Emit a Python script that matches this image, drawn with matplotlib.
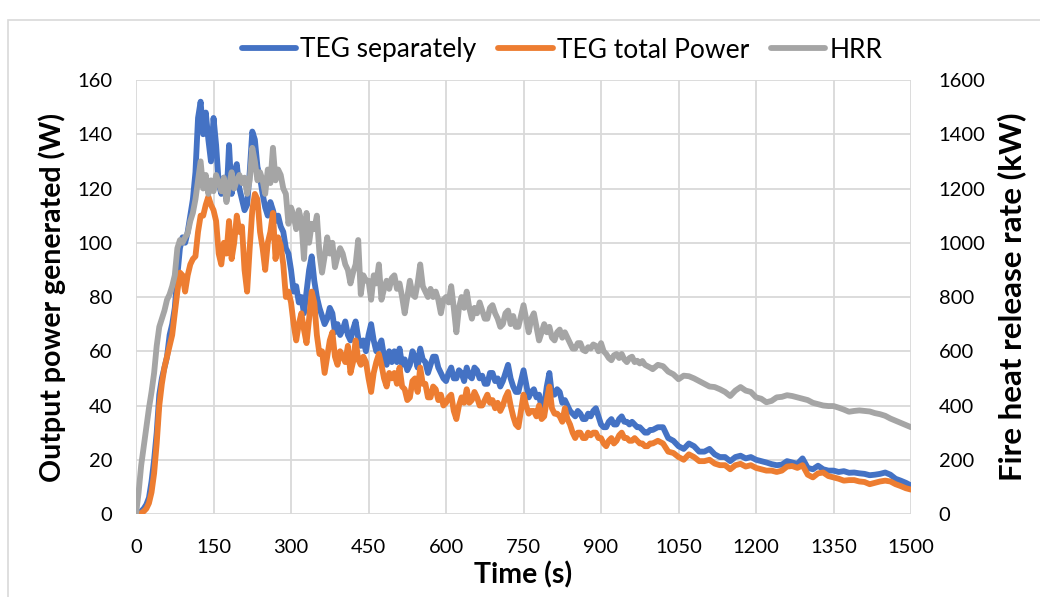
import matplotlib
matplotlib.use("Agg")
import matplotlib.pyplot as plt
from matplotlib.patches import Rectangle

plt.rcParams['font.family'] = ['Lato', 'DejaVu Sans']

# sampling: 5 s up to 1000 s, then 10 s
time_s = list(range(0, 1000, 5)) + list(range(1000, 1501, 10))

teg_separately = [
    0, 0.5, 1, 2, 3.5, 6, 12, 20, 30, 44,
    50, 54, 58, 66, 70, 76, 88, 98, 102, 100,
    104, 110, 116, 126, 146, 152, 140, 148, 138, 130,
    146, 136, 122, 118, 124, 116, 136, 118, 126, 129,
    120, 116, 112, 114, 126, 141, 138, 128, 124, 118,
    113, 110, 115, 112, 108, 110, 106, 104, 98, 96,
    90, 82, 84, 78, 80, 74, 82, 90, 95, 86,
    80, 76, 73, 70, 72, 76, 74, 67, 70, 66,
    68, 71, 66, 64, 68, 71, 65, 62, 64, 60,
    66, 70, 64, 60, 62, 64, 58, 55, 60, 56,
    60, 56, 61, 55, 57, 53, 55, 60, 58, 54,
    61, 57, 56, 52, 55, 58, 58, 54, 52, 50,
    49, 52, 54, 50, 50, 53, 52, 49, 54, 51,
    50, 54, 53, 50, 51, 48, 48, 52, 52, 49,
    50, 47, 49, 52, 55, 50, 47, 45, 45, 49,
    53, 48, 43, 45, 46, 43, 44, 39, 40, 47,
    52, 44, 44, 46, 45, 41, 42, 40, 38, 37,
    36, 38, 37, 35, 35, 37, 36, 38, 39, 36,
    33, 32, 32, 34, 35, 33, 33, 35, 36, 34,
    34, 33, 34, 33, 32, 32, 31, 30, 30, 31,
    31, 32, 32, 28, 27, 25, 24, 26, 25, 23,
    23, 24, 22, 21, 21, 19.5, 21, 21.5, 20.5, 21,
    20, 19.5, 19, 18.4, 18, 18.2, 19.5, 19, 18.5, 20.5,
    17, 16.5, 17.8, 16.5, 16, 16, 15.5, 15.8, 15.2, 15.3,
    15, 14.8, 14.3, 14.5, 14.8, 15.3, 14.5, 13, 12.3, 11.5,
    10.5,
]

teg_total = [
    0, 0, 0.3, 1, 2, 4, 8, 15, 26, 40,
    48, 54, 58, 62, 66, 74, 82, 89, 88, 82,
    88, 92, 94, 95, 104, 110, 110, 114, 117, 114,
    112, 108, 96, 92, 100, 96, 108, 94, 100, 110,
    104, 106, 90, 82, 98, 112, 118, 116, 104, 98,
    90, 100, 104, 111, 94, 102, 99, 92, 80, 82,
    78, 70, 64, 70, 74, 68, 63, 72, 82, 78,
    66, 59, 60, 52, 58, 64, 67, 58, 55, 60,
    58, 56, 62, 52, 56, 64, 57, 55, 58, 56,
    50, 45, 52, 56, 59, 55, 50, 47, 52, 50,
    52, 48, 54, 47, 46, 42, 43, 49, 50, 45,
    54, 48, 48, 43, 43, 47, 46, 42, 44, 40,
    41, 43, 44, 38, 35, 40, 43, 41, 46, 41,
    42, 45, 43, 40, 40, 42, 44, 41, 42, 39,
    41, 38, 40, 43, 45, 40, 36, 33, 32, 38,
    44, 40, 37, 38, 38, 36, 40, 35, 36, 42,
    47, 39, 37, 37, 36, 34, 39, 35, 33, 30,
    28, 30, 30, 28, 28, 30, 29, 30, 30, 28,
    28, 26, 25, 27, 28, 26, 27, 29, 30, 28,
    28, 27, 27, 28, 27, 26, 26, 25, 25, 26,
    26, 27, 26, 23, 22.5, 21, 20, 22, 21, 19.5,
    19.5, 20, 18.6, 18, 18, 16.5, 18, 18.5, 17.5, 18,
    17, 16.5, 16, 16, 15.5, 16, 17.5, 17.7, 17, 18,
    14.5, 13.5, 15, 15.3, 14, 13.5, 13, 12.3, 12.5, 12.5,
    12, 11.8, 11, 11.5, 12, 12.3, 12, 11, 10.3, 9.5,
    9,
]

hrr_kw = [
    0, 80, 180, 250, 320, 390, 450, 520, 620, 690,
    720, 750, 790, 810, 840, 880, 980, 1010, 1000, 1020,
    1035, 1080, 1110, 1160, 1230, 1300, 1200, 1250, 1180, 1230,
    1190, 1250, 1220, 1190, 1240, 1150, 1210, 1260, 1200, 1230,
    1250, 1220, 1240, 1180, 1230, 1350, 1300, 1230, 1260, 1230,
    1180, 1270, 1220, 1350, 1230, 1270, 1250, 1200, 1180, 1070,
    1130, 1100, 1050, 1120, 1080, 940, 1110, 1000, 1070, 1050,
    1100, 960, 890, 950, 1020, 960, 1000, 910, 950, 980,
    960, 920, 900, 850, 890, 920, 1010, 810, 880, 860,
    860, 790, 880, 850, 920, 790, 830, 860, 830, 870,
    880, 830, 850, 800, 740, 800, 860, 810, 800, 850,
    920, 840, 820, 800, 830, 800, 820, 790, 740, 790,
    800, 780, 840, 760, 670, 760, 800, 760, 820, 760,
    720, 760, 740, 780, 750, 720, 720, 760, 770, 740,
    720, 690, 700, 740, 750, 700, 730, 690, 690, 730,
    770, 720, 670, 720, 740, 690, 640, 670, 700, 670,
    690, 650, 640, 670, 680, 650, 670, 650, 630, 610,
    610, 630, 630, 605, 600, 615, 610, 625, 620, 600,
    630, 600, 590, 575, 567, 585, 590, 575, 590, 570,
    560, 575, 580, 560, 565, 555, 564, 550, 545, 540,
    534, 550, 545, 525, 515, 497, 510, 508, 500, 490,
    480, 470, 468, 460, 450, 435, 455, 468, 455, 450,
    430, 425, 412, 417, 430, 432, 438, 435, 430, 425,
    420, 410, 405, 400, 398, 398, 392, 385, 377, 380,
    382, 380, 378, 372, 368, 362, 352, 344, 336, 328,
    320,
]

x_ticks = list(range(0, 1501, 150))
power_ticks = list(range(0, 161, 20))
hrr_ticks = list(range(0, 1601, 200))

blue = '#4472C4'
orange = '#ED7D31'
grey = '#A5A5A5'
grid_c = '#D9D9D9'

fig = plt.figure(figsize=(10.4, 5.97), dpi=100)
ax1 = fig.add_axes([0.1308, 0.139, 0.7452, 0.727])
ax2 = ax1.twinx()

# outer chart frame
fig.patches.append(Rectangle((8 / 1040, -0.05), 1.2, 1.05 - 20 / 597,
                             transform=fig.transFigure, fill=False,
                             edgecolor=grid_c, linewidth=1.2))

style = dict(lw=4.2, solid_joinstyle='round', solid_capstyle='round')
l1, = ax1.plot(time_s, teg_separately, color=blue, label='TEG separately', **style)
l2, = ax1.plot(time_s, teg_total, color=orange, label='TEG total Power', **style)
l3, = ax2.plot(time_s, hrr_kw, color=grey, label='HRR', **style)

ax1.set_xlim(0, 1500)
ax1.set_ylim(0, 160)
ax2.set_ylim(0, 1600)
ax1.set_xticks(x_ticks)
ax1.set_yticks(power_ticks)
ax2.set_yticks(hrr_ticks)

ax1.set_axisbelow(True)
ax1.grid(True, color=grid_c, linewidth=1.3)
for a in (ax1, ax2):
    for s in a.spines.values():
        s.set_visible(False)
ax1.tick_params(axis='both', length=0, labelsize=14.5, colors='#000000')
ax1.tick_params(axis='y', pad=17)
ax1.tick_params(axis='x', pad=18)
ax2.tick_params(axis='y', length=0, labelsize=14.5, pad=20)

ax1.set_xlabel('Time (s)', fontsize=20.5, fontweight='bold', labelpad=4)
ax1.set_ylabel('Output power generated (W)', fontsize=20.5, fontweight='bold', labelpad=8)
ax2.set_ylabel('Fire heat release rate (kW)', fontsize=22.5, fontweight='bold', labelpad=8)

fig.legend(handles=[l1, l2, l3], loc='center', bbox_to_anchor=(562 / 1040, 1 - 50 / 597),
           ncol=3, frameon=False, fontsize=19, handlelength=2.05,
           handletextpad=0.15, columnspacing=0.85)

fig.savefig('out.png', dpi=100)
